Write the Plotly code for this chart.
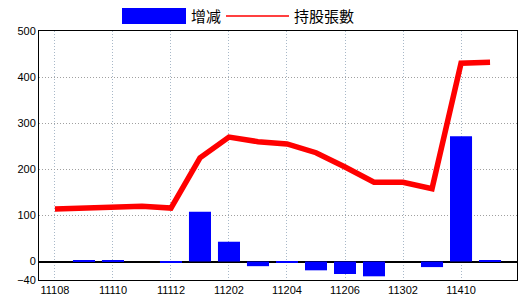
import plotly.graph_objects as go

categories = ["11108", "11109", "11110", "11111", "11112", "11201", "11202", "11203",
              "11204", "11205", "11206", "11207", "11302", "11303", "11410", "11411"]
changes = [0, 2, 2, 0, -3, 108, 43, -10, -3, -19, -27, -32, 0, -12, 272, 2]
holders = [114, 116, 120, 120, 116, 225, 270, 260, 255, 236, 205, 172, 172, 158, 430, 432]
y_ticks = [-40, 0, 100, 200, 300, 400, 500]

fig = go.Figure()
fig.add_trace(go.Bar(x=categories, y=changes, name="增减", marker=dict(color="#0000ff", line=dict(width=0)),
                     showlegend=False))
fig.add_trace(go.Scatter(x=categories, y=holders, name="持股張數", mode="lines",
                         line=dict(color="#ff0000", width=5.5), showlegend=False))

# custom legend (wide swatches as in the reference)
W, H, L, B = 478, 249, 39, 20
def px(x):
    return (x - L) / W
def py(y):
    return (300 - B - y) / H

fig.add_shape(type="rect", xref="paper", yref="paper", x0=px(122), x1=px(186), y0=py(24), y1=py(8),
              fillcolor="#0000ff", line=dict(width=0))
fig.add_shape(type="line", xref="paper", yref="paper", x0=px(226), x1=px(289), y0=py(16), y1=py(16),
              line=dict(color="#ff0000", width=1.5))
fig.add_annotation(text="增减", xref="paper", yref="paper", x=px(189), y=py(16), xanchor="left",
                   yanchor="middle", showarrow=False, font=dict(size=15, color="black"))
fig.add_annotation(text="持股張數", xref="paper", yref="paper", x=px(292), y=py(16), xanchor="left",
                   yanchor="middle", showarrow=False, font=dict(size=15, color="black"))

fig.update_layout(
    width=520, height=300,
    margin=dict(l=L, r=3, t=31, b=B),
    paper_bgcolor="white", plot_bgcolor="white",
    bargap=0.24,
    font=dict(family="Noto Sans CJK TC, Liberation Sans", color="black"),
    xaxis=dict(type="category", range=[-0.55, 15.93], tickmode="linear", tick0=0, dtick=2,
               showgrid=True, gridcolor="#a8b8c8", griddash="1px,2px", gridwidth=1,
               showline=True, linecolor="black", linewidth=1, mirror=True, ticks="",
               tickfont=dict(family="Liberation Sans", size=11, color="black")),
    yaxis=dict(range=[-40, 500], tickmode="array", tickvals=y_ticks, showgrid=True,
               gridcolor="#a0a0a0", griddash="1px,2px", gridwidth=1,
               zeroline=True, zerolinecolor="black", zerolinewidth=1.5,
               showline=True, linecolor="black", linewidth=1, mirror=True, ticks="",
               tickfont=dict(family="Liberation Sans", size=11, color="black")),
)

fig.write_html("out.html")
